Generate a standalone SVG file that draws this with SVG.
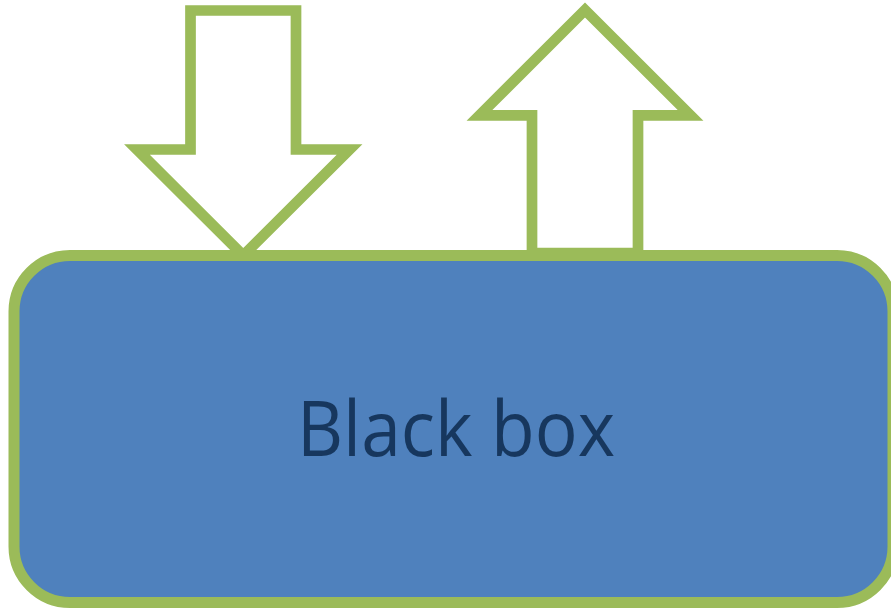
<svg xmlns="http://www.w3.org/2000/svg" width="891" height="609" viewBox="0 0 891 609">
<style>
.arrow{fill:#FFFFFF;stroke:#9BBB59;stroke-width:10.7;stroke-linejoin:miter;stroke-miterlimit:10}
.box{fill:#4F81BD;stroke:#9BBB59;stroke-width:11}
.label{font-family:"Open Sans","Liberation Sans",sans-serif;font-size:77px;fill:#17375E}
</style>
<rect width="891" height="609" fill="#FFFFFF"/>
<g id="connectors">
<polygon id="arrow-in" class="arrow" points="190.5,10.5 296,10.5 296,149.5 349.5,149.5 243.25,255.5 137,149.5 190.5,149.5"/>
<polygon id="arrow-out" class="arrow" points="585,10 690.5,115.3 638,115.3 638,253 532,253 532,115.3 479.5,115.3"/>
</g>
<g id="black-box">
<rect class="box" x="14" y="255.5" width="879" height="347" rx="56" ry="56"/>
<text class="label" x="456" y="456" text-anchor="middle" textLength="318" lengthAdjust="spacingAndGlyphs">Black box</text>
</g>
</svg>
